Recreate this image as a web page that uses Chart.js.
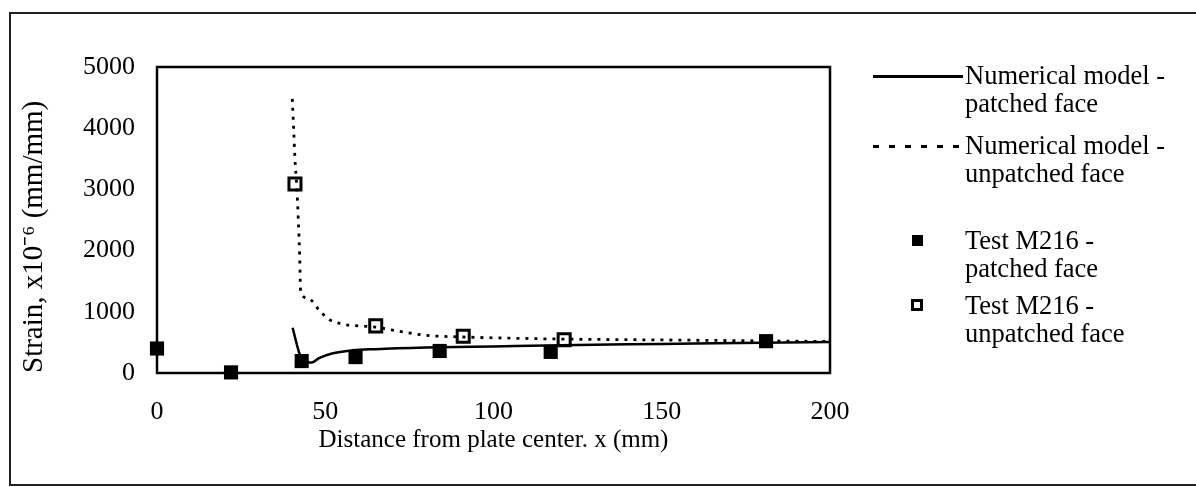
<!DOCTYPE html>
<html><head><meta charset="utf-8">
<script src="https://cdn.jsdelivr.net/npm/chart.js@4/dist/chart.umd.min.js"></script>
<style>
html,body{margin:0;padding:0;background:#fff;width:1196px;height:487px;overflow:hidden}
#wrap{position:relative;width:1196px;height:487px}
canvas{display:block}
#legend{position:absolute;left:0;top:0;width:1196px;height:487px;font-family:"Liberation Serif","Times New Roman",serif;font-size:26.5px;color:#000;pointer-events:none}
.txt{position:absolute;line-height:28px;white-space:nowrap}
.sw{position:absolute}
</style></head>
<body><div id="wrap"><canvas id="c" width="1196" height="487"></canvas><div id="legend"></div></div>
<script>
// ---- data ----
const xTicks = [0, 50, 100, 150, 200];
const yTicks = [0, 1000, 2000, 3000, 4000, 5000];
const seriesLabels = [
  "Numerical model -\npatched face",
  "Numerical model -\nunpatched face",
  "Test M216 -\npatched face",
  "Test M216 -\nunpatched face"
];
const numPatchedX = [40.3, 42.5, 44, 46, 48, 52, 58, 65, 80, 100, 120, 150, 180, 200];
const numPatchedY = [740, 290, 170, 170, 240, 320, 370, 390, 415, 435, 455, 475, 495, 505];
const numUnpatchedX = [40.2, 40.6, 41, 41.5, 42, 42.4, 42.7, 45, 48, 51, 56, 60, 65, 70, 80, 90, 100, 120, 150, 180, 200];
const numUnpatchedY = [4480, 4000, 3500, 3080, 2500, 1900, 1320, 1220, 1040, 880, 790, 770, 750, 700, 615, 590, 575, 555, 540, 525, 515];
const testPatchedX = [0, 22, 43, 59, 84, 117, 181];
const testPatchedY = [400, 10, 195, 260, 360, 345, 520];
const testUnpatchedX = [41, 65, 91, 121];
const testUnpatchedY = [3090, 770, 600, 545];

const toXY = (xs, ys) => xs.map((x, i) => ({x: x, y: ys[i]}));
const FONT = '"Liberation Serif","Times New Roman",serif';

const frame = {
  id: 'frame',
  afterDraw(chart) {
    const ctx = chart.ctx, a = chart.chartArea;
    ctx.save();
    ctx.strokeStyle = '#000';
    ctx.lineWidth = 2.5;
    ctx.strokeRect(a.left, a.top, a.right - a.left, a.bottom - a.top);
    ctx.strokeStyle = '#222';
    ctx.lineWidth = 2;
    ctx.beginPath();
    ctx.moveTo(1196, 13); ctx.lineTo(10, 13); ctx.lineTo(10, 486);
    ctx.moveTo(10, 485); ctx.lineTo(1196, 485);
    ctx.stroke();
    ctx.restore();
  }
};

const chart = new Chart(document.getElementById('c'), {
  type: 'scatter',
  data: {
    datasets: [
      {label: seriesLabels[0], data: toXY(numPatchedX, numPatchedY), showLine: true, borderColor: '#000', borderWidth: 2.5, pointRadius: 0, cubicInterpolationMode: 'monotone'},
      {label: seriesLabels[1], data: toXY(numUnpatchedX, numUnpatchedY), showLine: true, borderColor: '#000', borderWidth: 2.8, borderDash: [3, 6], pointRadius: 0, cubicInterpolationMode: 'monotone'},
      {label: seriesLabels[2], data: toXY(testPatchedX, testPatchedY), showLine: false, clip: false, pointStyle: 'rect', pointRadius: 10, backgroundColor: '#000', borderColor: '#000', borderWidth: 0},
      {label: seriesLabels[3], data: toXY(testUnpatchedX, testUnpatchedY), showLine: false, clip: false, pointStyle: 'rect', pointRadius: 8.5, backgroundColor: '#fff', borderColor: '#000', borderWidth: 3}
    ]
  },
  options: {
    responsive: false, animation: false,
    layout: {padding: {left: 10, right: 366, top: 67, bottom: 10}},
    plugins: {legend: {display: false}, tooltip: {enabled: false}},
    scales: {
      x: {
        type: 'linear', min: 0, max: 200,
        afterBuildTicks: s => { s.ticks = xTicks.map(v => ({value: v})); },
        ticks: {color: '#000', font: {family: FONT, size: 26}, padding: 24, maxRotation: 0, callback: v => String(v)},
        grid: {display: false, drawTicks: false}, border: {display: false},
        title: {display: true, text: 'Distance from plate center. x (mm)', color: '#000', font: {family: FONT, size: 25}, padding: 22},
        afterFit: s => { s.height = 104; }
      },
      y: {
        type: 'linear', min: 0, max: 5000,
        afterBuildTicks: s => { s.ticks = yTicks.map(v => ({value: v})); },
        ticks: {color: '#000', font: {family: FONT, size: 26}, padding: 22, callback: v => String(v)},
        grid: {display: false, drawTicks: false}, border: {display: false},
        title: {display: true, text: 'Strain, x10\u207B\u2076 (mm/mm)', color: '#000', font: {family: FONT, size: 29}, padding: 7, align: 'start'},
        afterFit: s => { s.width = 147; }
      }
    }
  },
  plugins: [frame]
});

// ---- HTML legend ----
const legend = document.getElementById('legend');
const lineTops = [61, 131, 226, 291];
chart.data.datasets.forEach((ds, i) => {
  const t = document.createElement('div');
  t.className = 'txt';
  t.style.left = '965px';
  t.style.top = lineTops[i] + 'px';
  t.innerHTML = ds.label.split('\n').join('<br>');
  legend.appendChild(t);
  const sw = document.createElement('div');
  sw.className = 'sw';
  const cy = lineTops[i] + 15;
  if (i === 0) {
    Object.assign(sw.style, {left: '873px', top: (cy - 1) + 'px', width: '90px', height: '2.5px', background: '#000'});
  } else if (i === 1) {
    Object.assign(sw.style, {left: '873px', top: (cy - 1) + 'px', width: '92px', height: '2.5px',
      background: 'repeating-linear-gradient(90deg,#000 0 6px,transparent 6px 16px)'});
  } else if (i === 2) {
    Object.assign(sw.style, {left: '912px', top: (cy - 6) + 'px', width: '11px', height: '11px', background: '#000'});
  } else {
    Object.assign(sw.style, {left: '911px', top: (cy - 7) + 'px', width: '12px', height: '12px', boxSizing: 'border-box', border: '3px solid #000', background: '#fff'});
  }
  legend.appendChild(sw);
});
</script>
</body></html>
